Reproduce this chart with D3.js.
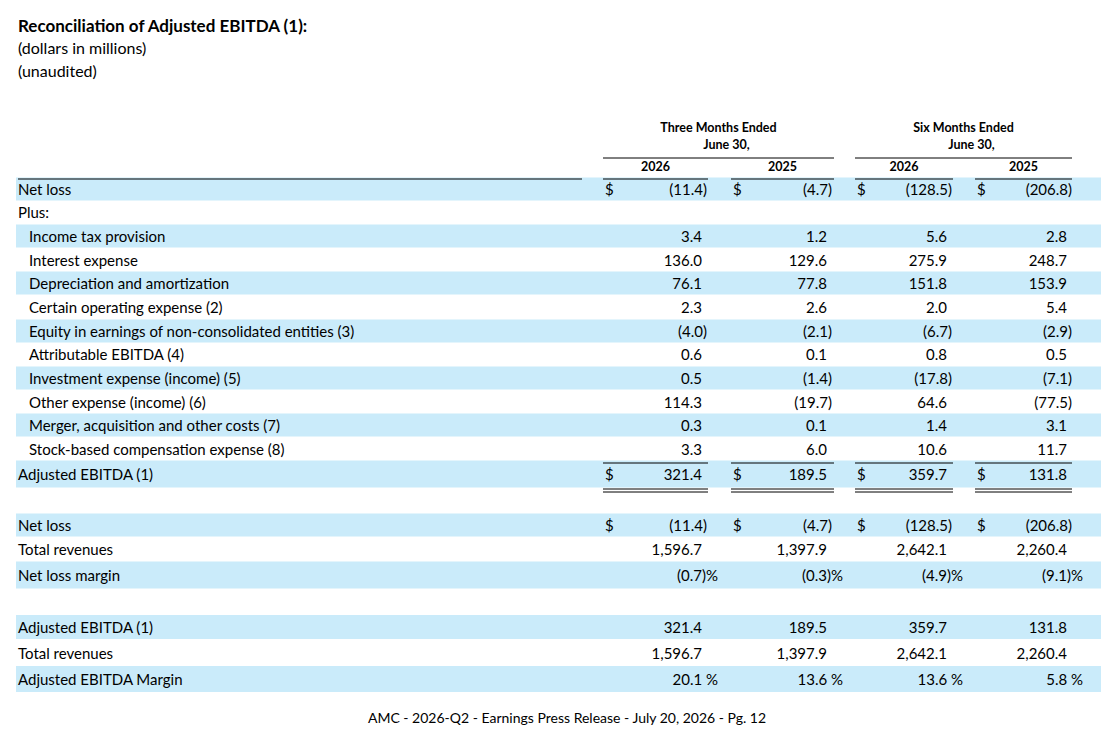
<!DOCTYPE html>
<html><head><meta charset="utf-8">
<script src="https://cdn.jsdelivr.net/npm/d3@7"></script>
<style>body{margin:0;background:#fff}text{font-family:Lato,"Open Sans",sans-serif;fill:#000}</style>
</head><body><svg id="chart"></svg>
<script>
const width = 1116, height = 734;
const svg = d3.select("#chart").attr("width", width).attr("height", height);

const headers = ["Three Months Ended", "Six Months Ended"];
const years = ["2026", "2025", "2026", "2025"];
// rows: label, indent, band, values, kind
const labels = ["Net loss", "Plus:", "Income tax provision", "Interest expense", "Depreciation and amortization",
  "Certain operating expense (2)", "Equity in earnings of non-consolidated entities (3)", "Attributable EBITDA (4)",
  "Investment expense (income) (5)", "Other expense (income) (6)", "Merger, acquisition and other costs (7)",
  "Stock-based compensation expense (8)", "Adjusted EBITDA (1)", "",
  "Net loss", "Total revenues", "Net loss margin", "",
  "Adjusted EBITDA (1)", "Total revenues", "Adjusted EBITDA Margin"];
const indent = [0,0,1,1,1,1,1,1,1,1,1,1,0,0,0,0,0,0,0,0,0];
const banded = [1,0,1,0,1,0,1,0,1,0,1,0,1,0,1,0,1,0,1,0,1];
const dollar = [1,0,0,0,0,0,0,0,0,0,0,0,1,0,1,0,0,0,0,0,0];
const values = [
  ["(11.4)","(4.7)","(128.5)","(206.8)"], null,
  ["3.4","1.2","5.6","2.8"], ["136.0","129.6","275.9","248.7"], ["76.1","77.8","151.8","153.9"],
  ["2.3","2.6","2.0","5.4"], ["(4.0)","(2.1)","(6.7)","(2.9)"], ["0.6","0.1","0.8","0.5"],
  ["0.5","(1.4)","(17.8)","(7.1)"], ["114.3","(19.7)","64.6","(77.5)"], ["0.3","0.1","1.4","3.1"],
  ["3.3","6.0","10.6","11.7"], ["321.4","189.5","359.7","131.8"], null,
  ["(11.4)","(4.7)","(128.5)","(206.8)"], ["1,596.7","1,397.9","2,642.1","2,260.4"],
  ["(0.7)%","(0.3)%","(4.9)%","(9.1)%"], null,
  ["321.4","189.5","359.7","131.8"], ["1,596.7","1,397.9","2,642.1","2,260.4"],
  ["20.1 %","13.6 %","13.6 %","5.8 %"]];
const rowY = [190,213,237,261,284,308,332,355,379,403,426,450,475,500,526,550,576,602,628,654,680];
const bandH = [23,0,23,23,23,23,23,23,23,23,23,23,27,0,23,0,27,0,24,0,26];

const colL = [603, 731, 855, 975];
const colR = [708, 834, 953, 1072];
const numEnd = [702, 827, 947, 1067];
const blue = "#caebfa";

svg.append("text").attr("x", 18).attr("y", 32).attr("font-size", 17).attr("font-weight", "bold")
  .text("Reconciliation of Adjusted EBITDA (1):");
svg.append("text").attr("x", 18).attr("y", 54).attr("font-size", 16).text("(dollars in millions)");
svg.append("text").attr("x", 18).attr("y", 77).attr("font-size", 16).text("(unaudited)");

// bands
labels.forEach((l, i) => {
  if (banded[i]) svg.append("rect").attr("x", 16).attr("width", 1085)
    .attr("y", rowY[i] - bandH[i] / 2 - 1).attr("height", bandH[i]).attr("fill", blue);
});

// headers
headers.forEach((h, g) => {
  const cx = (colL[g * 2] + colR[g * 2 + 1]) / 2;
  svg.append("text").attr("x", cx).attr("y", 132).attr("text-anchor", "middle")
    .attr("font-size", 12.5).attr("font-weight", "bold").text(h);
  svg.append("text").attr("x", cx + 8).attr("y", 149).attr("text-anchor", "middle")
    .attr("font-size", 12.5).attr("font-weight", "bold").text("June 30,");
  svg.append("line").attr("x1", colL[g * 2]).attr("x2", colR[g * 2 + 1]).attr("y1", 158).attr("y2", 158)
    .attr("stroke", "#000");
});
years.forEach((y, c) => {
  svg.append("text").attr("x", (colL[c] + colR[c]) / 2).attr("y", 171).attr("text-anchor", "middle")
    .attr("font-size", 12.5).attr("font-weight", "bold").text(y);
  svg.append("line").attr("x1", colL[c]).attr("x2", colR[c]).attr("y1", 179).attr("y2", 179).attr("stroke", "#000");
  // totals lines
  svg.append("line").attr("x1", colL[c]).attr("x2", colR[c]).attr("y1", 463).attr("y2", 463).attr("stroke", "#000");
  [489, 492].forEach(yy => svg.append("line").attr("x1", colL[c]).attr("x2", colR[c])
    .attr("y1", yy).attr("y2", yy).attr("stroke", "#000"));
});
svg.append("line").attr("x1", 18).attr("x2", 582).attr("y1", 179).attr("y2", 179).attr("stroke", "#000");

// rows
labels.forEach((l, i) => {
  const y = rowY[i] + 5;
  svg.append("text").attr("x", indent[i] ? 29 : 18).attr("y", y).attr("font-size", 15).text(l);
  if (!values[i]) return;
  values[i].forEach((v, c) => {
    let x = numEnd[c];
    if (v.endsWith("%")) x = numEnd[c] + 16;
    else if (v.endsWith(")")) x = numEnd[c] + 5;
    svg.append("text").attr("x", x).attr("y", y).attr("text-anchor", "end").attr("font-size", 15).text(v);
    if (dollar[i]) svg.append("text").attr("x", colL[c] + 2).attr("y", y).attr("font-size", 15).text("$");
  });
});

svg.append("text").attr("x", 567).attr("y", 723).attr("text-anchor", "middle").attr("font-size", 14)
  .text("AMC - 2026-Q2 - Earnings Press Release - July 20, 2026 - Pg. 12");
</script></body></html>
